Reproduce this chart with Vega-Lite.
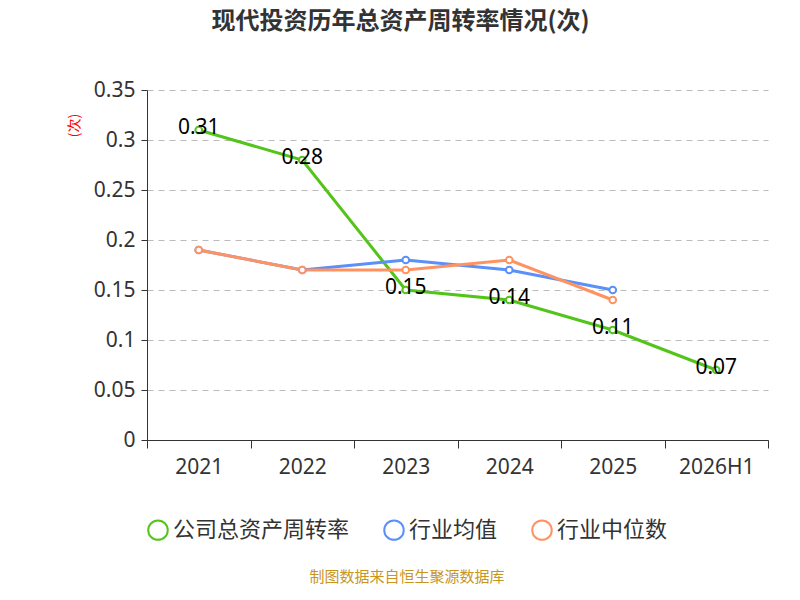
{
  "$schema": "https://vega.github.io/schema/vega-lite/v6.json",
  "width": 621,
  "height": 350,
  "autosize": "none",
  "padding": {"left": 147, "top": 90, "right": 32, "bottom": 160},
  "title": {"text": "现代投资历年总资产周转率情况(次)", "fontSize": 24, "fontWeight": "bold", "color": "#333", "offset": 45, "anchor": "middle", "dx": -57, "font": "Noto Sans CJK SC"},
  "config": {"font": "Noto Sans CJK SC", "view": {"stroke": null}},
  "data": {"values": [
    {"year": "2021", "s": "公司总资产周转率", "v": 0.31},
    {"year": "2022", "s": "公司总资产周转率", "v": 0.28},
    {"year": "2023", "s": "公司总资产周转率", "v": 0.15},
    {"year": "2024", "s": "公司总资产周转率", "v": 0.14},
    {"year": "2025", "s": "公司总资产周转率", "v": 0.11},
    {"year": "2026H1", "s": "公司总资产周转率", "v": 0.07},
    {"year": "2021", "s": "行业均值", "v": 0.19},
    {"year": "2022", "s": "行业均值", "v": 0.17},
    {"year": "2023", "s": "行业均值", "v": 0.18},
    {"year": "2024", "s": "行业均值", "v": 0.17},
    {"year": "2025", "s": "行业均值", "v": 0.15},
    {"year": "2021", "s": "行业中位数", "v": 0.19},
    {"year": "2022", "s": "行业中位数", "v": 0.17},
    {"year": "2023", "s": "行业中位数", "v": 0.17},
    {"year": "2024", "s": "行业中位数", "v": 0.18},
    {"year": "2025", "s": "行业中位数", "v": 0.14}
  ]},
  "encoding": {
    "x": {"field": "year", "type": "ordinal", "scale": {"type": "band", "paddingInner": 0, "paddingOuter": 0},
      "axis": {"title": null, "labelAngle": 0, "labelFontSize": 21, "labelColor": "#333", "labelPadding": 8, "domainColor": "#333", "tickColor": "#333", "tickSize": 8, "tickBand": "extent", "labelFont": "Noto Sans"}},
    "y": {"field": "v", "type": "quantitative", "scale": {"domain": [0, 0.35]},
      "axis": {"values": [0, 0.05, 0.1, 0.15, 0.2, 0.25, 0.3, 0.35], "format": "~g", "title": "(次)", "titleColor": "red", "titleFontSize": 14, "titleFontWeight": "normal", "titleX": -66, "titleY": 35, "labelFontSize": 21, "labelColor": "#333", "labelFont": "Noto Sans", "labelPadding": 6, "domain": true, "domainColor": "#333", "tickColor": "#333", "tickSize": 6, "gridDash": [6, 5], "gridColor": "#bbb", "labelFlush": false}}
  },
  "layer": [
    {"mark": {"type": "line", "strokeWidth": 3},
      "encoding": {"color": {"field": "s", "type": "nominal", "sort": ["公司总资产周转率", "行业均值", "行业中位数"],
        "scale": {"domain": ["公司总资产周转率", "行业均值", "行业中位数"], "range": ["#52c41a", "#5b8ff9", "#ff9261"]},
        "legend": {"orient": "bottom", "direction": "horizontal", "title": "制图数据来自恒生聚源数据库", "titleOrient": "bottom", "titleAnchor": "middle", "titleColor": "#c8961e", "titleFontSize": 15, "titleFontWeight": "normal", "titlePadding": 26, "titleLimit": 500, "labelFontSize": 22, "labelColor": "#333", "symbolType": "circle", "symbolSize": 380, "symbolStrokeWidth": 2, "columnPadding": 30, "offset": 42, "labelLimit": 300}}}},
    {"mark": {"type": "point", "filled": false, "fill": "white", "strokeWidth": 2, "size": 45, "opacity": 1},
      "encoding": {"stroke": {"field": "s", "type": "nominal", "scale": {"domain": ["公司总资产周转率", "行业均值", "行业中位数"], "range": ["#52c41a", "#5b8ff9", "#ff9261"]}, "legend": null}}},
    {"transform": [{"filter": "datum.s == '公司总资产周转率'"}],
      "mark": {"type": "text", "fontSize": 21, "color": "black", "font": "Noto Sans", "dy": -2},
      "encoding": {"text": {"field": "v", "type": "quantitative", "format": ".2f"}}}
  ]
}
